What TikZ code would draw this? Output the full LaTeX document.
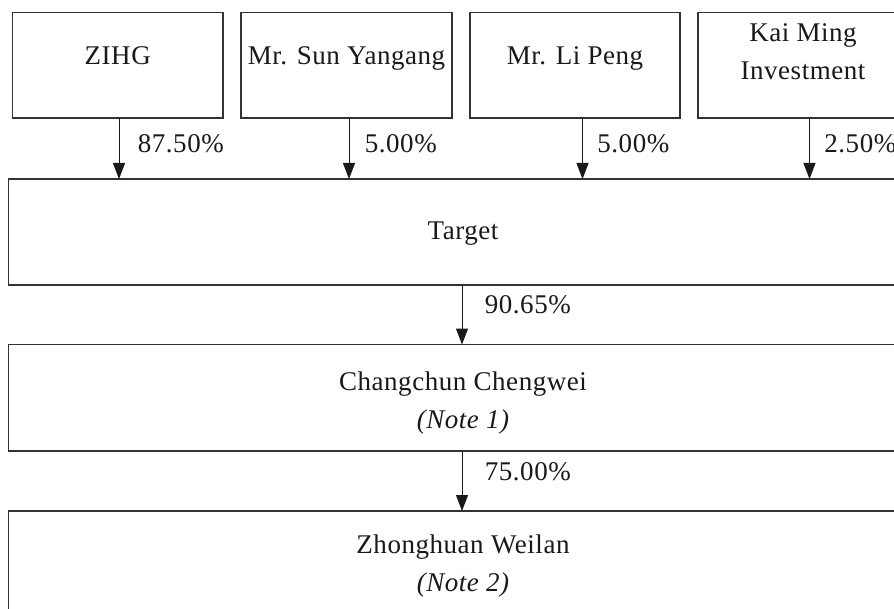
\documentclass[tikz,border=0pt]{standalone}
\usepackage{fontspec}
\setmainfont[LetterSpace=2]{Liberation Serif}
\usetikzlibrary{arrows.meta}
\begin{document}
\begin{tikzpicture}[x=0.5pt,y=-0.5pt,
  box/.style={draw=black!80,line width=0.65pt,rectangle,inner sep=0pt,outer sep=0pt},
  topbox/.style={box,minimum height=52.75pt},
  widebox/.style={box,minimum width=454.5pt,minimum height=53pt},
  txt/.style={anchor=base,inner sep=0pt,font=\fontsize{13.5}{16}\selectfont,text=black!90},
  pct/.style={anchor=base west,inner sep=0pt,font=\fontsize{13.5}{16}\selectfont,text=black!90},
  arr/.style={draw=black!90,line width=0.5pt,-{Triangle[length=8pt,width=6pt]}}]
\useasboundingbox (0,0) rectangle (894,609);
\clip (0,0) rectangle (894,609);
\fill[white] (0,0) rectangle (894,609);
% top boxes
\node[topbox,minimum width=105.25pt] (zihg) at (117.75,65.25) {};
\node[topbox,minimum width=105.5pt] (sun) at (346.5,65.25) {};
\node[topbox,minimum width=105pt] (li) at (575,65.25) {};
\node[topbox,minimum width=105pt] (kai) at (803,65.25) {};
\node[txt] (tzihg) at (117.75,65) {ZIHG};
\node[txt] (tsun) at (346.5,65) {Mr. Sun Yangang};
\node[txt] (tli) at (575,65) {Mr. Li Peng};
\node[txt] (tkai1) at (803,42) {Kai Ming};
\node[txt] (tkai2) at (803,80) {Investment};
% wide boxes
\node[widebox] (target) at (463,232) {};
\node[txt] (ttarget) at (463,240) {Target};
\node[widebox,minimum height=53.25pt] (cc) at (463,397.75) {};
\node[txt] (tcc1) at (463,390.5) {Changchun Chengwei};
\node[txt] (tcc2) at (463,428) {\itshape (Note 1)};
\node[widebox] (zw) at (463,564) {};
\node[txt] (tzw1) at (463,553) {Zhonghuan Weilan};
\node[txt] (tzw2) at (463,591) {\itshape (Note 2)};
% arrows
\draw[arr] ([xshift=0.625pt]zihg.south) -- ([xshift=0.625pt]zihg.south |- target.north);
\draw[arr] ([xshift=1.25pt]sun.south) -- ([xshift=1.25pt]sun.south |- target.north);
\draw[arr] ([xshift=3.75pt]li.south) -- ([xshift=3.75pt]li.south |- target.north);
\draw[arr] ([xshift=3.25pt]kai.south) -- ([xshift=3.25pt]kai.south |- target.north);
\draw[arr] ([xshift=-0.5pt]target.south) -- ([xshift=-0.5pt]cc.north);
\draw[arr] ([xshift=-0.5pt]cc.south) -- ([xshift=-0.5pt]zw.north);
% labels
\node[pct] (p1) at (137.5,153) {87.50\%};
\node[pct] (p2) at (364.5,153) {5.00\%};
\node[pct] (p3) at (597,153) {5.00\%};
\node[pct] (p4) at (824,153) {2.50\%};
\node[pct] (p5) at (484.5,314) {90.65\%};
\node[pct] (p6) at (484.5,480) {75.00\%};
\end{tikzpicture}
\end{document}
